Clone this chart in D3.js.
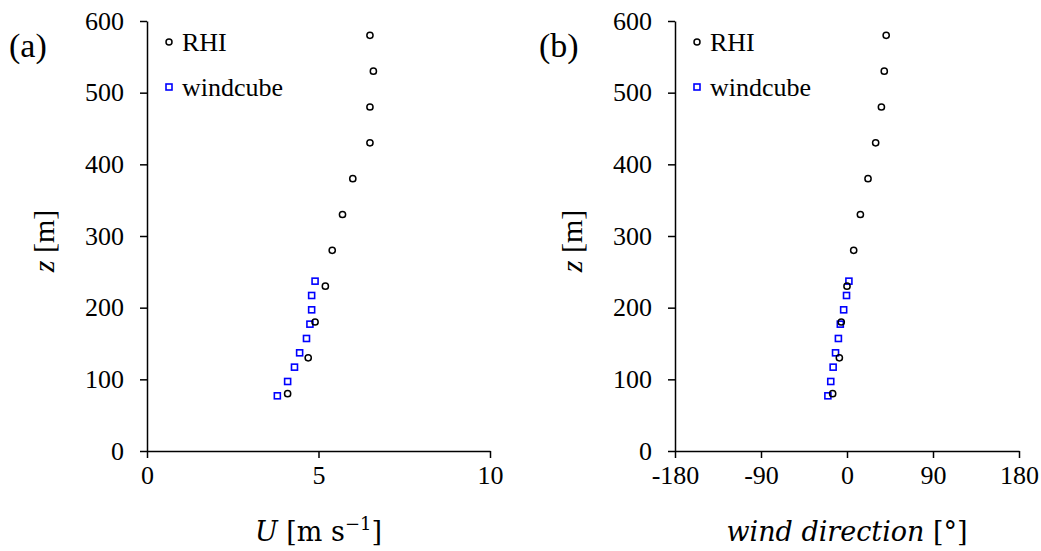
<!DOCTYPE html>
<html lang="en">
<head>
<meta charset="UTF-8">
<title>Wind profiles: RHI vs windcube</title>
<script src="https://d3js.org/d3.v7.min.js"></script>
<style>
  body { margin: 0; background: #fff; }
  text { font-family: "Liberation Serif", "Times New Roman", serif; fill: #000; }
  .domain, .tick line { stroke: #000; stroke-width: 1.5px; }
</style>
</head>
<body>
<svg id="chart" width="1041" height="551"></svg>
<script>
// heights [m]
const rhiZ = [80, 130, 180, 230, 280, 330, 380, 430, 480, 530, 580];
const wcZ  = [77, 97, 117, 137, 157, 177, 197, 217, 237];

// (a) wind speed [m/s]
const rhiU = [4.1, 4.7, 4.9, 5.2, 5.4, 5.7, 6.0, 6.5, 6.5, 6.6, 6.5];
const wcU  = [3.8, 4.1, 4.3, 4.45, 4.65, 4.75, 4.8, 4.8, 4.9];

// (b) wind direction [deg]
const rhiDir = [-15, -8, -6, 0, 7, 14, 22, 30, 36, 39, 41];
const wcDir  = [-20, -17, -14.5, -12, -9, -7, -3.5, -0.5, 2];

const zTicks = [0, 100, 200, 300, 400, 500, 600];
const uTicks = [0, 5, 10];
const dirTicks = [-180, -90, 0, 90, 180];

const svg = d3.select("#chart");

const panels = [
  {tag: "(a)", left: 147, right: 490, xDom: [0, 10], xTicks: uTicks,
   rhi: rhiU, wc: wcU, xTitle: "U", tagX: 9},
  {tag: "(b)", left: 675, right: 1019, xDom: [-180, 180], xTicks: dirTicks,
   rhi: rhiDir, wc: wcDir, xTitle: "dir", tagX: 539}
];

const plotTop = 21, plotBottom = 451;

panels.forEach(p => {
  const x = d3.scaleLinear().domain(p.xDom).range([p.left, p.right]);
  const y = d3.scaleLinear().domain([0, 600]).range([plotBottom, plotTop]);
  const g = svg.append("g");

  g.append("g")
    .attr("transform", `translate(0,${plotBottom})`)
    .call(d3.axisBottom(x).tickValues(p.xTicks).tickFormat(d => String(d))
      .tickSize(7).tickPadding(8).tickSizeOuter(0))
    .call(a => a.selectAll("text").attr("font-size", 26));

  g.append("g")
    .attr("transform", `translate(${p.left},0)`)
    .call(d3.axisLeft(y).tickValues(zTicks).tickSize(7).tickPadding(16).tickSizeOuter(0))
    .call(a => a.selectAll("text").attr("font-size", 26));

  // panel tag
  g.append("text").attr("x", p.tagX).attr("y", 57)
    .attr("font-size", 34).text(p.tag);

  // y title
  const yt = g.append("text")
    .attr("transform", `translate(${p.left - 93},${(plotTop + plotBottom) / 2 + 5}) rotate(-90)`)
    .attr("text-anchor", "middle").attr("font-size", 30);
  yt.append("tspan").attr("font-style", "italic").text("z");
  yt.append("tspan").text(" [m]");

  // x title
  const cx = (p.left + p.right) / 2;
  const xt = g.append("text").attr("x", cx).attr("y", 541)
    .attr("text-anchor", "middle").attr("font-size", 27)
    .style("font-family", "'DejaVu Serif', serif");
  if (p.xTitle === "U") {
    xt.append("tspan").attr("font-style", "italic").text("U");
    xt.append("tspan").text(" [m s");
    xt.append("tspan").attr("font-size", 18).attr("dy", -11).text("\u22121");
    xt.append("tspan").attr("dy", 11).text("]");
  } else {
    xt.append("tspan").attr("font-style", "italic").text("wind direction");
    xt.append("tspan").text(" [\u00b0]");
  }

  // windcube squares
  g.selectAll(".wc").data(p.wc).join("rect")
    .attr("x", d => x(d) - 3).attr("y", (d, i) => y(wcZ[i]) - 3)
    .attr("width", 6).attr("height", 6)
    .attr("fill", "none").attr("stroke", "#0000ff").attr("stroke-width", 1.6);

  // RHI circles
  g.selectAll(".rhi").data(p.rhi).join("circle")
    .attr("cx", d => x(d)).attr("cy", (d, i) => y(rhiZ[i]))
    .attr("r", 3.1).attr("fill", "none").attr("stroke", "#000").attr("stroke-width", 1.5);

  // legend
  const lx = p.left + 22;
  g.append("circle").attr("cx", lx).attr("cy", 42).attr("r", 3)
    .attr("fill", "none").attr("stroke", "#000").attr("stroke-width", 1.5);
  g.append("text").attr("x", lx + 13).attr("y", 51).attr("font-size", 26).text("RHI");
  g.append("rect").attr("x", lx - 3).attr("y", 84).attr("width", 6).attr("height", 6)
    .attr("fill", "none").attr("stroke", "#0000ff").attr("stroke-width", 1.6);
  g.append("text").attr("x", lx + 13).attr("y", 96).attr("font-size", 26).text("windcube");
});
</script>
</body>
</html>
